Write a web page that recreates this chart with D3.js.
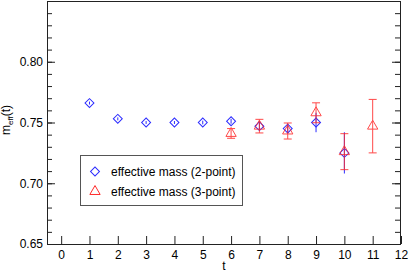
<!DOCTYPE html>
<html>
<head>
<meta charset="utf-8">
<script src="https://cdn.jsdelivr.net/npm/d3@7"></script>
<style>
  body { margin: 0; background: #fff; }
  svg { display: block; font-family: "Liberation Sans", Arial, sans-serif; }
</style>
</head>
<body>
<svg id="chart"></svg>
<script>
// 2-point effective mass
const t2 = [1, 2, 3, 4, 5, 6, 7, 8, 9, 10];
const mass2 = [0.766, 0.753, 0.750, 0.750, 0.750, 0.751, 0.747, 0.745, 0.750, 0.725];
const err2 = [0.0012, 0.0012, 0.0012, 0.0012, 0.0015, 0.002, 0.003, 0.004, 0.008, 0.017];

// 3-point effective mass
const t3 = [6, 7, 8, 9, 10, 11];
const mass3 = [0.741, 0.747, 0.743, 0.758, 0.726, 0.747];
const err3 = [0.004, 0.0056, 0.0066, 0.0082, 0.0148, 0.022];

const xTicks = d3.range(0, 13);
const yMajor = [0.65, 0.70, 0.75, 0.80];
const yMinor = d3.range(0.65, 0.855, 0.01);

const W = 409, H = 272;
const margin = { top: 1, left: 47, right: 8, bottom: 28 };

const svg = d3.select('#chart')
  .attr('width', W)
  .attr('height', H);

const x = d3.scaleLinear()
  .domain([-0.5, 12])
  .range([margin.left, W - margin.right]);

const y = d3.scaleLinear()
  .domain([0.65, 0.85])
  .range([H - margin.bottom, margin.top]);

const axisColor = '#222';

// frame
svg.append('rect')
  .attr('x', x(-0.5) + 0.5)
  .attr('y', y(0.85) + 0.5)
  .attr('width', x(12) - x(-0.5) - 1)
  .attr('height', y(0.65) - y(0.85))
  .attr('fill', 'none')
  .attr('stroke', axisColor)
  .attr('stroke-width', 1);

// x axis, ticks pointing inward
const xAxis = d3.axisBottom(x)
  .tickValues(xTicks)
  .tickSize(-8)
  .tickPadding(6)
  .tickFormat(d3.format('d'));

svg.append('g')
  .attr('transform', `translate(0, ${y(0.65)})`)
  .call(xAxis)
  .call(g => g.select('.domain').remove())
  .call(g => g.selectAll('line').attr('stroke', axisColor))
  .call(g => g.selectAll('text').attr('font-size', 12).attr('fill', '#000')
    .attr('font-family', '"Liberation Sans", Arial, sans-serif'));

// y axis left: minor + major ticks inward
const yAxisMinor = d3.axisLeft(y).tickValues(yMinor).tickSize(-5).tickFormat('');
const yAxisMajor = d3.axisLeft(y).tickValues(yMajor).tickSize(-8).tickPadding(4)
  .tickFormat(d3.format('.2f'));

[yAxisMinor, yAxisMajor].forEach(ax => {
  svg.append('g')
    .attr('transform', `translate(${x(-0.5)}, 0)`)
    .call(ax)
    .call(g => g.select('.domain').remove())
    .call(g => g.selectAll('line').attr('stroke', axisColor))
    .call(g => g.selectAll('text').attr('font-size', 12).attr('fill', '#000')
      .attr('font-family', '"Liberation Sans", Arial, sans-serif'));
});

// y axis right: mirrored ticks
const yRightMinor = d3.axisRight(y).tickValues(yMinor).tickSize(-5).tickFormat('');
const yRightMajor = d3.axisRight(y).tickValues(yMajor).tickSize(-8).tickFormat('');

[yRightMinor, yRightMajor].forEach(ax => {
  svg.append('g')
    .attr('transform', `translate(${x(12) - 1}, 0)`)
    .call(ax)
    .call(g => g.select('.domain').remove())
    .call(g => g.selectAll('line').attr('stroke', axisColor));
});

// axis labels
svg.append('text')
  .attr('x', (x(-0.5) + x(12)) / 2)
  .attr('y', 270)
  .attr('text-anchor', 'middle')
  .attr('font-size', 12)
  .text('t');

const yl = svg.append('text')
  .attr('transform', `translate(10, 120) rotate(-90)`)
  .attr('text-anchor', 'middle')
  .attr('font-size', 12);
yl.append('tspan').text('m');
yl.append('tspan').attr('font-size', 8).attr('dy', 3).text('eff');
yl.append('tspan').attr('dy', -3).text('(t)');

const blue = '#2b2bff';
const red = '#ff2a2a';

const data2 = t2.map((t, i) => ({ t, m: mass2[i], e: err2[i] }));
const data3 = t3.map((t, i) => ({ t, m: mass3[i], e: err3[i] }));

const diamond = d3.symbol().type(d3.symbolSquare).size(40);
const triangle = d3.symbol().type(d3.symbolTriangle).size(46);

// 2-point: error bars (no caps) and diamonds
const g2 = svg.append('g');
g2.selectAll('line')
  .data(data2)
  .enter().append('line')
  .attr('x1', d => x(d.t))
  .attr('x2', d => x(d.t))
  .attr('y1', d => y(d.m - d.e))
  .attr('y2', d => y(d.m + d.e))
  .attr('stroke', blue)
  .attr('stroke-width', 1);

g2.selectAll('path')
  .data(data2)
  .enter().append('path')
  .attr('d', diamond)
  .attr('transform', d => `translate(${x(d.t)}, ${y(d.m)}) rotate(45)`)
  .attr('fill', 'none')
  .attr('stroke', blue)
  .attr('stroke-width', 1);

// 3-point: error bars with caps and triangles
const g3 = svg.append('g').attr('opacity', 0.85);
g3.selectAll('line.bar')
  .data(data3)
  .enter().append('line')
  .attr('class', 'bar')
  .attr('x1', d => x(d.t))
  .attr('x2', d => x(d.t))
  .attr('y1', d => y(d.m - d.e))
  .attr('y2', d => y(d.m + d.e))
  .attr('stroke', red);

['lo', 'hi'].forEach(k => {
  g3.selectAll('line.' + k)
    .data(data3)
    .enter().append('line')
    .attr('class', k)
    .attr('x1', d => x(d.t) - 4)
    .attr('x2', d => x(d.t) + 4)
    .attr('y1', d => y(k === 'lo' ? d.m - d.e : d.m + d.e))
    .attr('y2', d => y(k === 'lo' ? d.m - d.e : d.m + d.e))
    .attr('stroke', red);
});

g3.selectAll('path')
  .data(data3)
  .enter().append('path')
  .attr('d', triangle)
  .attr('transform', d => `translate(${x(d.t)}, ${y(d.m)})`)
  .attr('fill', 'none')
  .attr('stroke', red)
  .attr('stroke-width', 1);

// legend
const legend = svg.append('g');
legend.append('rect')
  .attr('x', 80.5)
  .attr('y', 155.5)
  .attr('width', 162)
  .attr('height', 50)
  .attr('fill', '#fff')
  .attr('stroke', '#555');

const items = [
  { label: 'effective mass (2-point)', sym: diamond, color: blue, rot: 45 },
  { label: 'effective mass (3-point)', sym: triangle, color: red, rot: 0 }
];

items.forEach((it, i) => {
  const cy = 171.5 + i * 20;
  legend.append('path')
    .attr('d', it.sym)
    .attr('transform', `translate(95, ${cy}) rotate(${it.rot})`)
    .attr('fill', 'none')
    .attr('stroke', it.color);
  legend.append('text')
    .attr('x', 111)
    .attr('y', cy + 4)
    .attr('font-size', 12)
    .text(it.label);
});
</script>
</body>
</html>
